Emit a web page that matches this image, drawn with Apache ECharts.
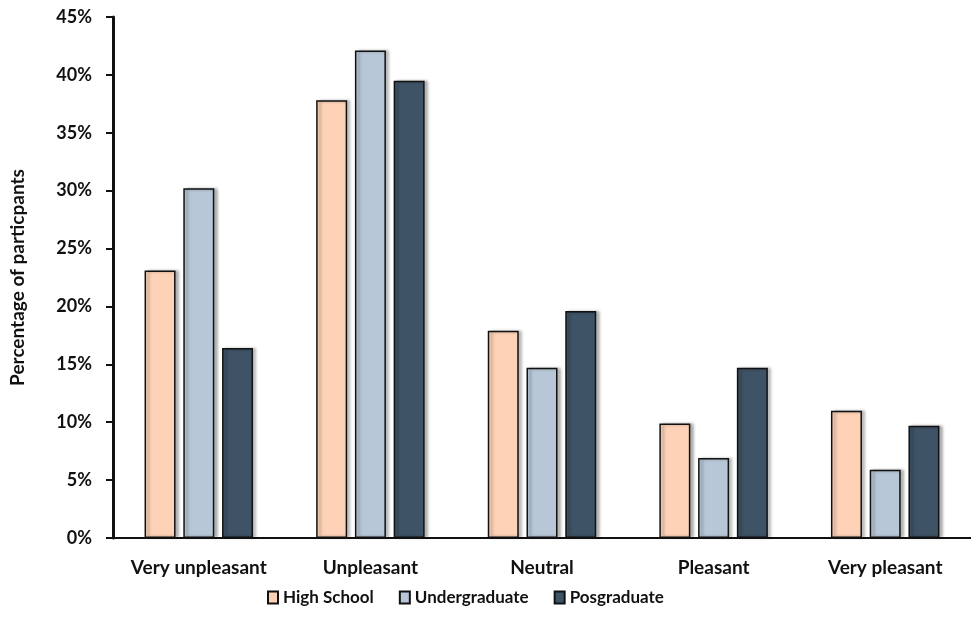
<!DOCTYPE html>
<html>
<head>
<meta charset="utf-8">
<script src="https://cdn.jsdelivr.net/npm/echarts@6/dist/echarts.min.js"></script>
<style>
  html, body { margin: 0; padding: 0; background: #fff; }
  #chart { width: 971px; height: 626px; }
</style>
</head>
<body>
<div id="chart"></div>
<script>
// Rating categories and share of participants per education level
const categories = ['Very unpleasant', 'Unpleasant', 'Neutral', 'Pleasant', 'Very pleasant'];
const highSchool = [23.1, 37.8, 17.9, 9.9, 11.0];
const undergraduate = [30.2, 42.1, 14.7, 6.9, 5.9];
const posgraduate = [16.4, 39.5, 19.6, 14.7, 9.7];
const seriesNames = ['High School', 'Undergraduate', 'Posgraduate'];
const seriesColors = ['#fdd2b7', '#b7c7d7', '#3e5366'];

const font = 'Lato, "Open Sans", sans-serif';

function barSeries(name, data, color) {
  return {
    name: name,
    type: 'bar',
    data: data,
    barWidth: 31,
    barGap: '25%',
    itemStyle: {
      color: color,
      borderColor: '#111',
      borderWidth: 1.5,
      shadowColor: 'rgba(0,0,0,0.3)',
      shadowBlur: 3,
      shadowOffsetX: 3
    }
  };
}

const chart = echarts.init(document.getElementById('chart'));
chart.setOption({
  animation: false,
  grid: { left: 112, right: 0, top: 17, bottom: 88 },
  legend: {
    top: 584,
    left: 262,
    itemWidth: 10,
    itemHeight: 12,
    itemGap: 25,
    icon: 'rect',
    textStyle: { fontFamily: font, fontWeight: 'bold', fontSize: 17, color: '#111' },
    data: seriesNames
  },
  xAxis: {
    type: 'category',
    data: categories,
    axisLine: { lineStyle: { color: '#111', width: 2 } },
    axisTick: { show: false },
    axisLabel: { interval: 0, fontFamily: font, fontWeight: 'bold', fontSize: 19, color: '#111', margin: 20 }
  },
  yAxis: {
    type: 'value',
    min: 0,
    max: 45,
    interval: 5,
    name: 'Percentage of particpants',
    nameLocation: 'middle',
    nameGap: 86,
    nameTextStyle: { fontFamily: font, fontWeight: 'bold', fontSize: 19, color: '#111' },
    axisLine: { show: true, lineStyle: { color: '#111', width: 3 } },
    axisTick: { show: true, length: 7, lineStyle: { color: '#111', width: 2 } },
    splitLine: { show: false },
    axisLabel: {
      fontFamily: font, fontWeight: 'bold', fontSize: 18, color: '#111', margin: 21,
      formatter: v => v + '%'
    }
  },
  series: [
    barSeries(seriesNames[0], highSchool, seriesColors[0]),
    barSeries(seriesNames[1], undergraduate, seriesColors[1]),
    barSeries(seriesNames[2], posgraduate, seriesColors[2])
  ]
});
</script>
</body>
</html>
